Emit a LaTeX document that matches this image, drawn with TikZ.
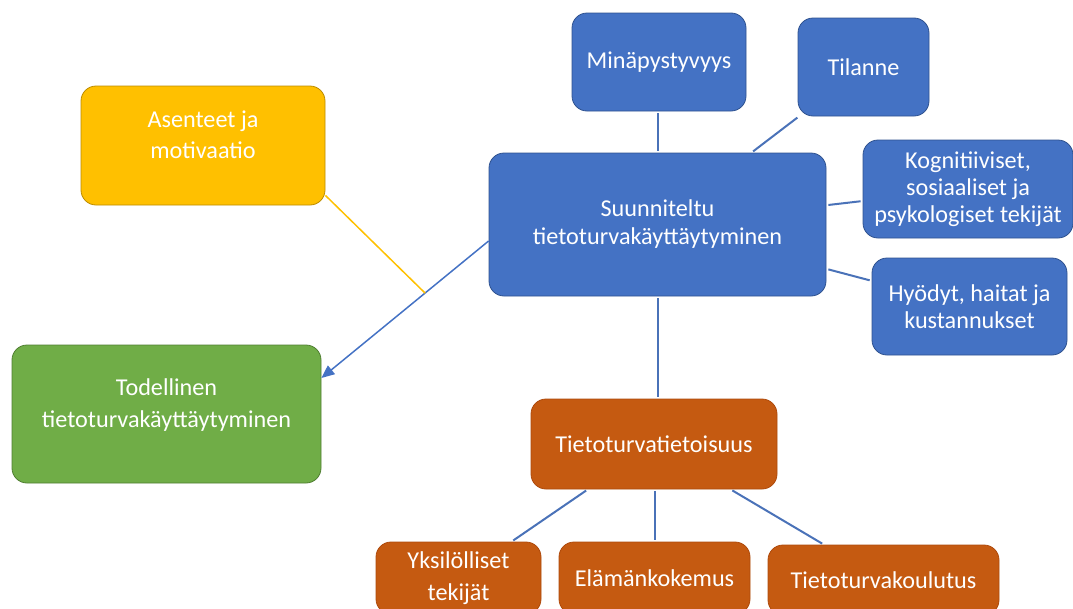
\documentclass[tikz,border=0pt]{standalone}
\usepackage{fontspec}
\setmainfont{Carlito}
\usetikzlibrary{arrows.meta,calc}
\definecolor{oblue}{HTML}{4472C4}
\definecolor{obluedark}{HTML}{2F528F}
\definecolor{ogreen}{HTML}{70AD47}
\definecolor{ogreendark}{HTML}{507E32}
\definecolor{oyellow}{HTML}{FFC000}
\definecolor{oyellowdark}{HTML}{BC8C00}
\definecolor{oorange}{HTML}{C55A11}
\definecolor{oorangedark}{HTML}{AE4A0C}
\definecolor{linkblue}{HTML}{4A72B8}
\begin{document}
\begin{tikzpicture}[x=1pt,y=-1pt,
  box/.style={draw, line width=0.8pt, rounded corners=15pt, text=white, align=center, inner sep=0pt,
    font=\fontsize{24.2}{28}\selectfont},
  bluebox/.style={box, fill=oblue, draw=obluedark},
  greenbox/.style={box, fill=ogreen, draw=ogreendark},
  yellowbox/.style={box, fill=oyellow, draw=oyellowdark},
  orangebox/.style={box, fill=oorange, draw=oorangedark},
  lbl/.style={text=white, align=center, inner sep=0pt},
  link/.style={draw=linkblue, line width=2pt, shorten <=2pt, shorten >=2pt},
  arrowlink/.style={draw=oblue, line width=1.5pt, -{Triangle[length=13pt,width=11pt]}},
  yellowlink/.style={draw=oyellow, line width=1.5pt}
]
\useasboundingbox (0,0) rectangle (1073,608);
\clip (0,0) rectangle (1073,608);

% nodes
\node[yellowbox, minimum width=244pt, minimum height=119pt] (asent) at (203,145.5) {};
\node[lbl, font=\fontsize{24.2}{31}\selectfont] (asentlbl) at (203,135) {Asenteet ja\\motivaatio};

\node[bluebox, minimum width=174pt, minimum height=98pt] (mina) at (659,62) {Minäpystyvyys};
\node[bluebox, minimum width=131pt, minimum height=98pt] (tila) at (863.5,67) {Tilanne};
\node[bluebox, minimum width=337pt, minimum height=143pt] (suun) at (657.5,224.5) {Suunniteltu\\tietoturvakäyttäytyminen};
\node[bluebox, minimum width=210pt, minimum height=98pt, font=\fontsize{24.2}{27}\selectfont] (kogn) at (968,189) {Kognitiiviset,\\sosiaaliset ja\\psykologiset tekijät};
\node[bluebox, minimum width=195pt, minimum height=97pt, font=\fontsize{24.2}{27}\selectfont] (hyod) at (969.5,306.5) {Hyödyt, haitat ja\\kustannukset};

\node[greenbox, minimum width=309pt, minimum height=138pt] (todel) at (166.5,414) {};
\node[lbl, font=\fontsize{24.2}{32}\selectfont] (todellbl) at (166.5,405) {Todellinen\\tietoturvakäyttäytyminen};

\node[orangebox, minimum width=246pt, minimum height=90pt] (tieto) at (654,444) {Tietoturvatietoisuus};
\node[orangebox, minimum width=165pt, minimum height=72pt, font=\fontsize{24.2}{32}\selectfont] (yksi) at (458.5,578) {Yksilölliset\\tekijät};
\node[orangebox, minimum width=191pt, minimum height=72pt] (elam) at (654.5,578) {Elämänkokemus};
\node[orangebox, minimum width=231pt, minimum height=70pt] (koul) at (883.5,580) {Tietoturvakoulutus};

% connectors
\draw[link] (mina.south -| suun.north) -- (suun.north);
\draw[link] (tila) -- (suun);
\draw[link] (kogn) -- (suun);
\draw[link] (hyod) -- (suun);
\draw[link] (suun.south) -- (suun.south |- tieto.north);
\draw[link] (tieto) -- (yksi);
\draw[link] (tieto.south -| elam.north) -- (elam.north);
\draw[link] (tieto) -- (koul);

\coordinate (arrstart) at ($(suun.west)+(0,16.5)$);
\coordinate (arrend) at ($(todel.east)+(0,-36)$);
\coordinate (meet) at ($(arrstart)!0.38!(arrend)$);
\draw[arrowlink] (arrstart) -- (arrend);
\draw[yellowlink] ($(asent.south east)+(0,-10)$) -- (meet);
\end{tikzpicture}
\end{document}
